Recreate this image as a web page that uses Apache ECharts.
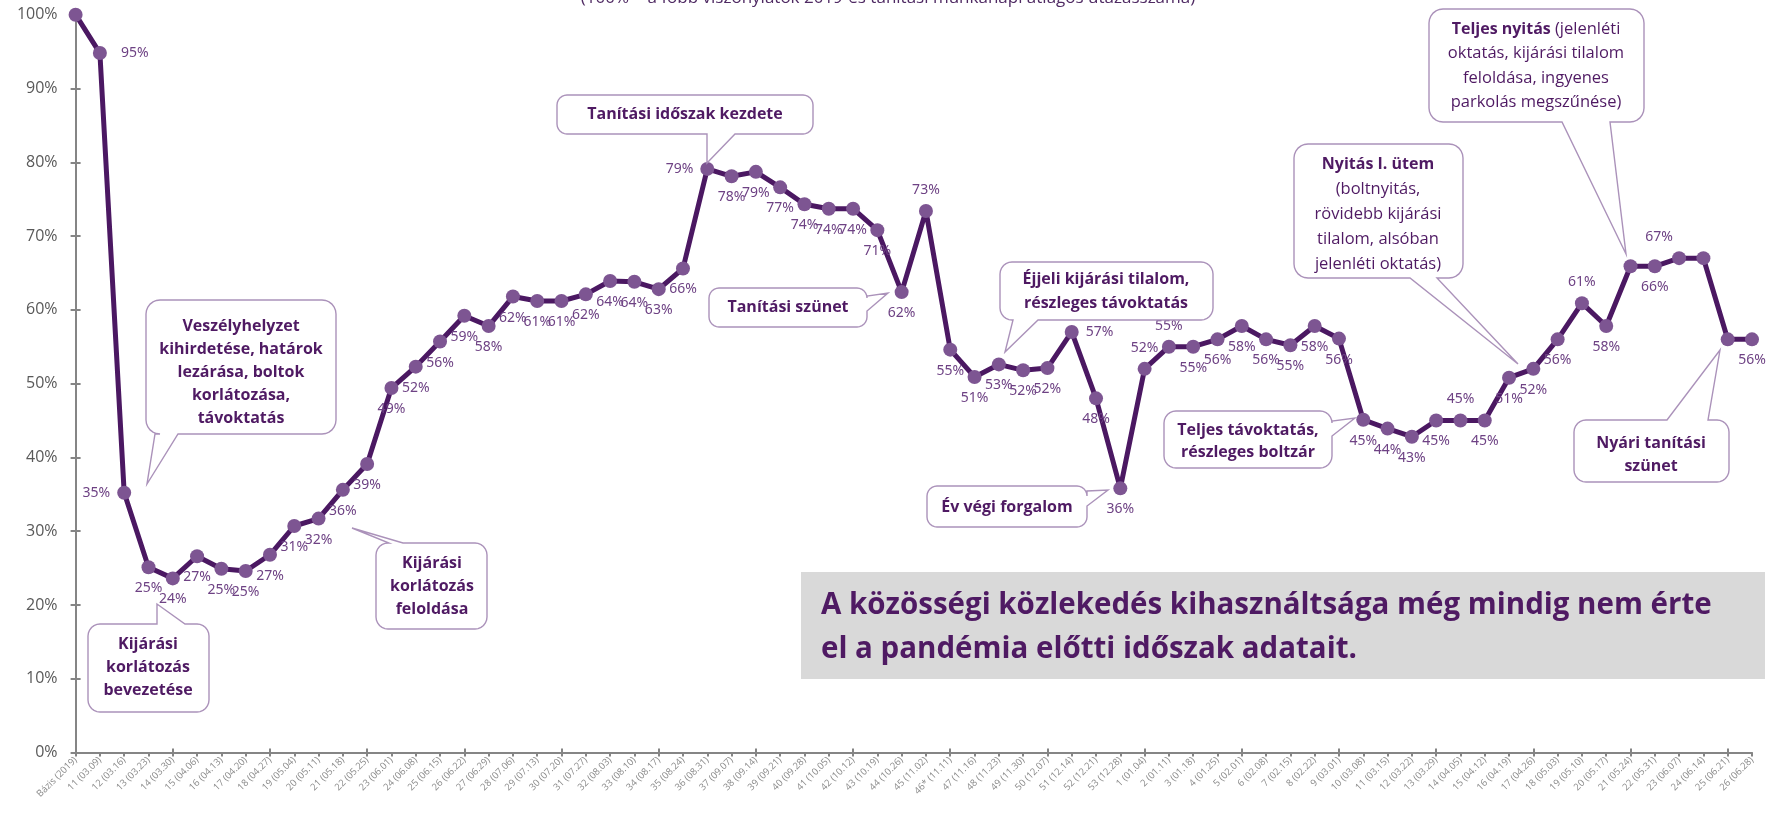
<!DOCTYPE html>
<html>
<head>
<meta charset="utf-8">
<script src="https://cdn.jsdelivr.net/npm/echarts@6/dist/echarts.min.js"></script>
<style>
html,body{margin:0;padding:0;background:#fff;}
#chart{width:1769px;height:814px;}
</style>
</head>
<body>
<div id="chart"></div>
<script>
// ---------- DATA ----------
const categories = [
 'Bázis (2019)','11 (03.09)','12 (03.16)','13 (03.23)','14 (03.30)','15 (04.06)','16 (04.13)','17 (04.20)','18 (04.27)',
 '19 (05.04)','20 (05.11)','21 (05.18)','22 (05.25)','23 (06.01)','24 (06.08)','25 (06.15)','26 (06.22)','27 (06.29)',
 '28 (07.06)','29 (07.13)','30 (07.20)','31 (07.27)','32 (08.03)','33 (08.10)','34 (08.17)','35 (08.24)','36 (08.31)',
 '37 (09.07)','38 (09.14)','39 (09.21)','40 (09.28)','41 (10.05)','42 (10.12)','43 (10.19)','44 (10.26)','45 (11.02)',
 '46* (11.11)','47 (11.16)','48 (11.23)','49 (11.30)','50 (12.07)','51 (12.14)','52 (12.21)','53 (12.28)',
 '1 (01.04)','2 (01.11)','3 (01.18)','4 (01.25)','5 (02.01)','6 (02.08)','7 (02.15)','8 (02.22)','9 (03.01)',
 '10 (03.08)','11 (03.15)','12 (03.22)','13 (03.29)','14 (04.05)','15 (04.12)','16 (04.19)','17 (04.26)','18 (05.03)',
 '19 (05.10)','20 (05.17)','21 (05.24)','22 (05.31)','23 (06.07)','24 (06.14)','25 (06.21)','26 (06.28)'
];
const values = [
 100, 94.8, 35.2, 25.1, 23.6, 26.6, 24.9, 24.6, 26.8,
 30.7, 31.7, 35.6, 39.1, 49.4, 52.3, 55.7, 59.2, 57.8,
 61.8, 61.2, 61.2, 62.1, 63.9, 63.8, 62.8, 65.6, 79.1,
 78.1, 78.7, 76.6, 74.3, 73.7, 73.7, 70.8, 62.4, 73.4,
 54.6, 50.9, 52.6, 51.8, 52.1, 57.0, 48.0, 35.8,
 52.0, 55.0, 55.0, 56.0, 57.8, 56.0, 55.2, 57.8, 56.1,
 45.1, 43.9, 42.8, 45.0, 45.0, 45.0, 50.8, 52.0, 56.0,
 60.9, 57.8, 65.9, 65.9, 67.0, 67.0, 56.0, 56.0
];
// label placement per point: b=bottom, t=top, l=left, r=right, ''=hidden
const labelPos = [
 '', 'r', 'l', 'b', 'b', 'b', 'b', 'b', 'b',
 'b', 'b', 'b', 'b', 'b', 'b', 'b', 'b', 'b',
 'b', 'b', 'b', 'b', 'b', 'b', 'b', 'b', 'l',
 'b', 'b', 'b', 'b', 'b', 'b', 'b', 'b', 't',
 'b', 'b', 'b', 'b', 'b', 'r', 'b', 'b',
 't', 't', 'b', 'b', 'b', 'b', 'b', 'b', 'b',
 'b', 'b', 'b', 'b', 't', 'b', 'b', 'b', 'b',
 't', 'b', '', 'b', 't', '', '', 'b'
];
const yTicks = [0, 10, 20, 30, 40, 50, 60, 70, 80, 90, 100];
const titleText = '(100% = a főbb viszonylatok 2019-es tanítási munkanapi átlagos utazásszáma)';
const noteLines = ['A közösségi közlekedés kihasználtsága még mindig nem érte', 'el a pandémia előtti időszak adatait.'];

// ---------- STYLE ----------
const LINE = '#4B1862';
const MARK = '#7D5592';
const LBL = '#6E4284';
const TXT = '#4F1A63';
const BORDER = '#AB92BA';
const posMap = {b:'bottom', t:'top', l:'left', r:'right'};

const seriesData = values.map((v, i) => {
  const p = labelPos[i];
  const lab = p ? { show: true, position: posMap[p] } : { show: false };
  if (i === 1) lab.distance = 14;
  if (i === 66) lab.offset = [-20, 0];
  return { value: v, label: lab };
});

// callout outline: rounded rect with a pointer notch
function bubble(x, y, w, h, r, side, b1, b2, tx, ty) {
  const pts = [];
  const arc = (cx, cy, a0, a1) => {
    for (let k = 0; k <= 6; k++) {
      const a = (a0 + (a1 - a0) * k / 6) * Math.PI / 180;
      pts.push([cx + r * Math.cos(a), cy + r * Math.sin(a)]);
    }
  };
  arc(x + r, y + r, 180, 270);
  if (side === 'top') { pts.push([b1, y], [tx, ty], [b2, y]); }
  arc(x + w - r, y + r, 270, 360);
  if (side === 'right') { pts.push([x + w, b1], [tx, ty], [x + w, b2]); }
  arc(x + w - r, y + h - r, 0, 90);
  if (side === 'bottom') { pts.push([b2, y + h], [tx, ty], [b1, y + h]); }
  arc(x + r, y + h - r, 90, 180);
  if (side === 'left') { pts.push([x, b2], [tx, ty], [x, b1]); }
  return {
    type: 'polygon', z: 100,
    shape: { points: pts },
    style: { fill: '#fff', stroke: BORDER, lineWidth: 1.4 }
  };
}
function richStyles(lh) {
  return {
    b: { fontFamily: 'Open Sans', fontSize: 16, fontWeight: 'bold', fill: TXT, color: TXT, lineHeight: lh },
    n: { fontFamily: 'Open Sans', fontSize: 16.5, fontWeight: 'normal', fill: TXT, color: TXT, lineHeight: lh }
  };
}
function label(cx, cy, text, lh) {
  lh = lh || 23;
  return {
    type: 'text', z: 101, x: cx, y: cy,
    style: {
      text: text, fill: TXT,
      fontFamily: 'Open Sans', fontSize: 16, fontWeight: 'bold',
      lineHeight: lh,
      textAlign: 'center', textVerticalAlign: 'middle',
      align: 'center', verticalAlign: 'middle',
      rich: richStyles(lh)
    }
  };
}

const graphics = [
  // title (cut off at top)
  { type: 'text', z: 50, x: 888, y: -10,
    style: { text: titleText, fill: '#4F2A63', fontFamily: 'Open Sans', fontSize: 17,
      textAlign: 'center', align: 'center', textVerticalAlign: 'top', verticalAlign: 'top' } },

  bubble(146, 300, 190, 134, 14, 'bottom', 155, 178, 147, 484),
  label(241, 372, '{b|Veszélyhelyzet}\n{b|kihirdetése, határok}\n{b|lezárása, boltok}\n{b|korlátozása,}\n{b|távoktatás}'),

  bubble(88, 624, 121, 88, 12, 'top', 157, 185, 157, 604),
  label(148, 667, '{b|Kijárási}\n{b|korlátozás}\n{b|bevezetése}'),

  bubble(376, 543, 111, 86, 12, 'top', 389, 403, 352, 528),
  label(432, 586, '{b|Kijárási}\n{b|korlátozás}\n{b|feloldása}'),

  bubble(557, 95, 256, 39, 10, 'bottom', 707, 735, 707, 163),
  label(685, 114, '{b|Tanítási időszak kezdete}'),

  bubble(709, 288, 158, 39, 10, 'right', 296, 311, 888, 293),
  label(788, 307, '{b|Tanítási szünet}'),

  bubble(1000, 262, 213, 58, 12, 'bottom', 1013, 1038, 1005, 352),
  label(1106, 291, '{b|Éjjeli kijárási tilalom,}\n{b|részleges távoktatás}', 24),

  bubble(927, 486, 160, 41, 10, 'right', 491, 506, 1108, 490),
  label(1007, 507, '{b|Év végi forgalom}'),

  bubble(1164, 411, 168, 57, 12, 'right', 421, 436, 1355, 418),
  label(1248, 441, '{b|Teljes távoktatás,}\n{b|részleges boltzár}', 22),

  bubble(1294, 144, 169, 134, 14, 'bottom', 1410, 1437, 1518, 364),
  label(1378, 214, '{b|Nyitás I. ütem}\n{n|(boltnyitás,}\n{n|rövidebb kijárási}\n{n|tilalom, alsóban}\n{n|jelenléti oktatás)}', 25),

  bubble(1429, 9, 215, 113, 14, 'bottom', 1562, 1610, 1626, 254),
  label(1536, 66, '{b|Teljes nyitás} {n|(jelenléti}\n{n|oktatás, kijárási tilalom}\n{n|feloldása, ingyenes}\n{n|parkolás megszűnése)}', 24.5),

  bubble(1574, 420, 155, 62, 12, 'top', 1667, 1708, 1720, 350),
  label(1651, 455, '{b|Nyári tanítási}\n{b|szünet}'),

  // note box
  { type: 'rect', z: 90, shape: { x: 801, y: 572, width: 964, height: 107 }, style: { fill: '#D9D9D9' } },
  { type: 'text', z: 91, x: 821, y: 606,
    style: { text: noteLines[0], fill: TXT, fontFamily: 'Open Sans', fontSize: 29.5, fontWeight: 'bold',
      textAlign: 'left', align: 'left', textVerticalAlign: 'middle', verticalAlign: 'middle' } },
  { type: 'text', z: 91, x: 821, y: 650,
    style: { text: noteLines[1], fill: TXT, fontFamily: 'Open Sans', fontSize: 29.5, fontWeight: 'bold',
      textAlign: 'left', align: 'left', textVerticalAlign: 'middle', verticalAlign: 'middle' } }
];

const chart = echarts.init(document.getElementById('chart'), null, { renderer: 'canvas' });
chart.setOption({
  animation: false,
  backgroundColor: '#fff',
  grid: { left: 75.6, right: 17, top: 14.7, bottom: 61.5, containLabel: false },
  xAxis: [{
    type: 'category', data: categories, boundaryGap: false,
    axisLine: { lineStyle: { color: '#858585', width: 2 } },
    axisTick: { show: true, alignWithLabel: true, length: 4, lineStyle: { color: '#858585', width: 2 } },
    axisLabel: { interval: 0, rotate: 45, fontSize: 9.5, color: '#8A8A8A', fontFamily: 'Open Sans', margin: 6 }
  }, {
    type: 'category', data: categories, boundaryGap: false, position: 'bottom',
    axisLine: { show: false },
    axisTick: { show: true, inside: true, length: 4, lineStyle: { color: '#858585', width: 2 } },
    axisLabel: { show: false }
  }],
  yAxis: [{
    type: 'value', min: yTicks[0], max: yTicks[yTicks.length - 1], interval: 10,
    axisLine: { show: true, lineStyle: { color: '#858585', width: 2 } },
    axisTick: { show: true, length: 5, lineStyle: { color: '#858585', width: 2 } },
    splitLine: { show: false },
    axisLabel: { formatter: '{value}%', fontSize: 16, color: '#595959', fontFamily: 'Open Sans', margin: 18 }
  }, {
    type: 'value', min: yTicks[0], max: yTicks[yTicks.length - 1], interval: 10, position: 'left',
    axisLine: { show: false },
    axisTick: { show: true, inside: true, length: 5, lineStyle: { color: '#858585', width: 2 } },
    splitLine: { show: false },
    axisLabel: { show: false }
  }],
  series: [{
    type: 'line', data: seriesData, xAxisIndex: 0, yAxisIndex: 0,
    symbol: 'circle', symbolSize: 14,
    lineStyle: { color: LINE, width: 5 },
    itemStyle: { color: MARK },
    label: {
      show: true, distance: 7, color: LBL, fontSize: 14, fontFamily: 'Noto Sans',
      formatter: p => Math.round(p.value) + '%'
    },
    z: 3
  }],
  graphic: graphics
});
</script>
</body>
</html>
